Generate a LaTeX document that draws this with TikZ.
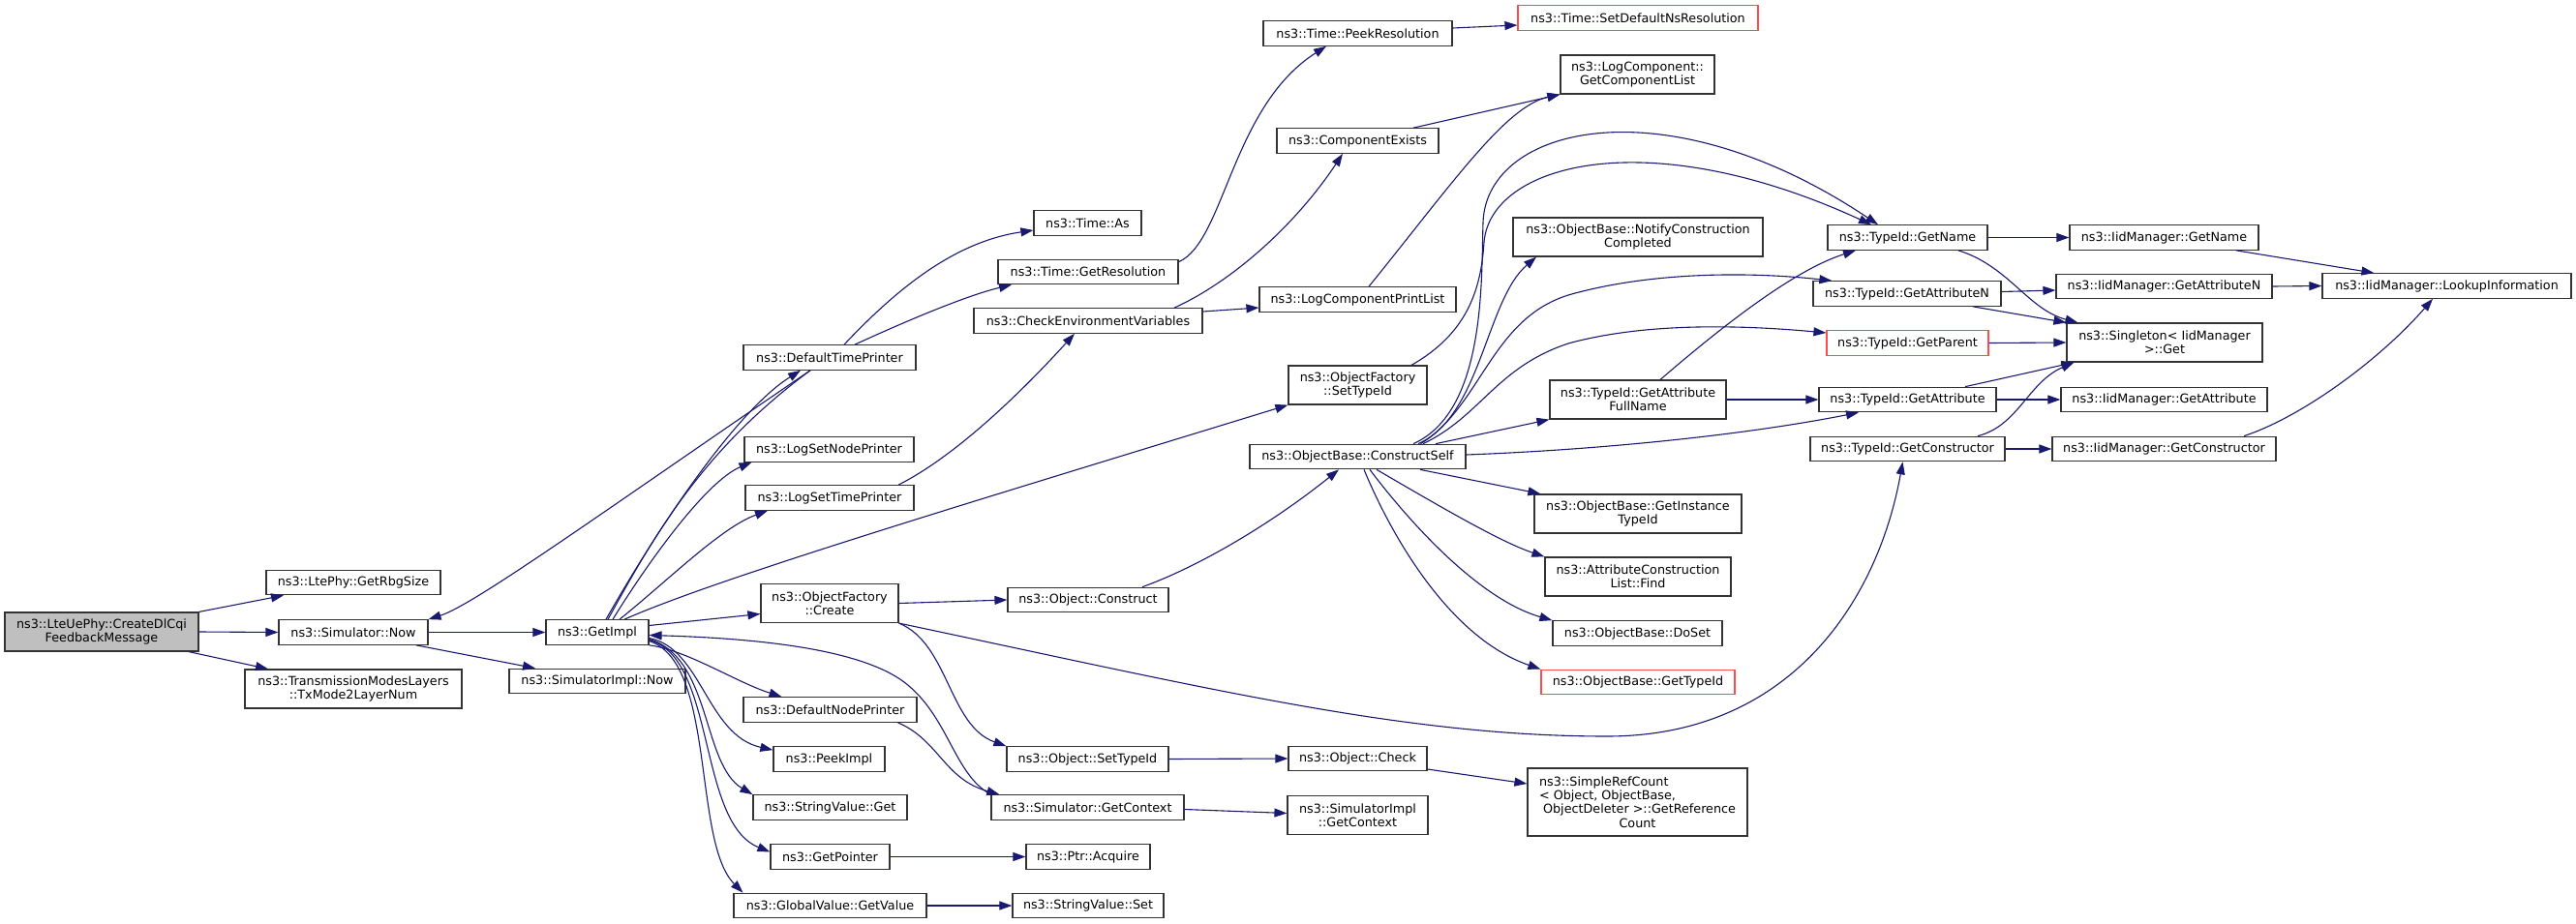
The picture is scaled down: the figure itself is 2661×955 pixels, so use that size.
\documentclass[tikz,border=0pt]{standalone}
\usepackage{fontspec}
\setmainfont{DejaVu Sans}
\usetikzlibrary{arrows.meta}
\definecolor{callblue}{HTML}{191970}
\definecolor{rootgray}{HTML}{BFBFBF}
\begin{document}
\begin{tikzpicture}[x=1pt,y=-1pt,
    fn/.style={draw=black!80,line width=1.2pt,fill=white,align=center,inner sep=1pt,
      minimum height=25.5pt,font=\fontsize{12.75}{14.3}\selectfont},
    fnred/.style={fn,draw=red!70},
    call/.style={draw=callblue,line width=1.1pt,-{Triangle[length=13pt,width=9pt]}}]
        \fill[white] (0,0) rectangle (2661,955);
        \useasboundingbox (0,0) rectangle (2661,955);
        \node[fn,fill=rootgray,minimum width=200pt,minimum height=40pt] (root) at (105,653) {ns3::LteUePhy::CreateDlCqi\\FeedbackMessage};
        \foreach
        \n/\x/\y/\w/\txt in {rbg/365/602/180/ns3::LtePhy::GetRbgSize, now/365/653.5/154/ns3::Simulator::Now,
          impl/617/653.5/106/ns3::GetImpl, simnow/617/704/182/ns3::SimulatorImpl::Now,
          deftime/857/369.5/178/ns3::DefaultTimePrinter, lognode/856.5/464.5/175/ns3::LogSetNodePrinter,
          logtime/857/514.5/174/ns3::LogSetTimePrinter, defnode/857.5/733.5/179/ns3::DefaultNodePrinter,
          peek/856.5/784.5/115/ns3::PeekImpl, strget/857.5/834.5/159/ns3::StringValue::Get,
          getptr/857.5/885.5/123/ns3::GetPointer, getval/857.5/936/199/ns3::GlobalValue::GetValue,
          timeas/1123.5/230.5/111/ns3::Time::As, getres/1124/281/186/ns3::Time::GetResolution,
          checkenv/1124/331.5/236/ns3::CheckEnvironmentVariables, construct/1124/620/166/ns3::Object::Construct,
          objsettid/1123.5/784.5/167/ns3::Object::SetTypeId, getctx/1123.5/834.5/199/ns3::Simulator::GetContext,
          acquire/1124/885.5/128/ns3::Ptr::Acquire, strset/1124/936/156/ns3::StringValue::Set,
          peekres/1402.5/34.5/195/ns3::Time::PeekResolution, compexists/1402.5/145.5/167/ns3::ComponentExists,
          printlist/1402.5/309.5/203/ns3::LogComponentPrintList, cself/1402.5/472/223/ns3::ObjectBase::ConstructSelf,
          check/1402.5/784/143/ns3::Object::Check, doset/1691.5/654.5/175/ns3::ObjectBase::DoSet,
          tgetname/1970.5/245.5/165/ns3::TypeId::GetName, tgetattrn/1970/303.5/194/ns3::TypeId::GetAttributeN,
          tgetattr/1970.5/413/183/ns3::TypeId::GetAttribute, tgetctor/1970.5/464/201/ns3::TypeId::GetConstructor,
          iname/2235.5/245.5/195/ns3::IidManager::GetName, iattrn/2235.5/296/223/ns3::IidManager::GetAttributeN,
          iattr/2235.5/413/213/ns3::IidManager::GetAttribute, ictor/2235.5/464/231/ns3::IidManager::GetConstructor,
          lookup/2527.5/295.5/257/ns3::IidManager::LookupInformation}
          {\node[fn,minimum width=\w*1pt] (\n) at (\x,\y) {\txt};}
        \foreach
        \n/\x/\y/\w/\txt in {txmode/365/712/224/{ns3::TransmissionModesLayers\\::TxMode2LayerNum},
          create/857/623.5/142/{ns3::ObjectFactory\\::Create}, complist/1691.5/77/159/{ns3::LogComponent::\\GetComponentList},
          notify/1692/245/258/{ns3::ObjectBase::NotifyConstruction\\Completed}, facsettid/1402.5/398/143/{ns3::ObjectFactory\\::SetTypeId},
          fullname/1692/413/182/{ns3::TypeId::GetAttribute\\FullName}, insttid/1692/531/214/{ns3::ObjectBase::GetInstance\\TypeId},
          find/1692/596/192/{ns3::AttributeConstruction\\List::Find}, implctx/1402.5/842.5/145/{ns3::SimulatorImpl\\::GetContext},
          single/2236/354/202/{ns3::Singleton< IidManager\\ >::Get}}
          {\node[fn,minimum width=\w*1pt,minimum height=40pt] (\n) at (\x,\y) {\txt};}
        \foreach
        \n/\x/\y/\w/\txt in {setdefns/1692/18.5/248/ns3::Time::SetDefaultNsResolution,
          obtid/1692/705/200/ns3::ObjectBase::GetTypeId, tgetparent/1970.5/354.5/167/ns3::TypeId::GetParent}
          {\node[fnred,minimum width=\w*1pt] (\n) at (\x,\y) {\txt};}
        \node[fn,align=left,minimum width=227pt,minimum height=70pt] (refcount) at (1691.5,829) {ns3::SimpleRefCount\\< Object, ObjectBase,\\\ ObjectDeleter >::GetReference\\\hfill Count\hfill\mbox{}};

        \draw[call] (root.north east) -- ([xshift=-72pt]rbg.south);
        \draw[call] (root.east) -- (now.west);
        \draw[call] ([xshift=90pt]root.south) -- ([xshift=-88pt]txmode.north);
        \draw[call] (now.east) -- (impl.west);
        \draw[call] ([xshift=65pt]now.south) -- ([xshift=-64pt]simnow.north);
        \draw[call] ([xshift=-20pt]deftime.south) .. controls (620,531) and (490,625) .. (now.north east);
        \draw[call] ([xshift=9pt]impl.north) .. controls (680,545) and (760,425) .. ([xshift=-30pt]deftime.south);
        \draw[call,-] ([xshift=11pt]impl.north) .. controls (680,545) and (730,462) .. ([xshift=-20pt]deftime.south);
        \draw[call] ([xshift=16pt]impl.north) .. controls (670,580) and (730,497) .. ([xshift=-80pt]lognode.south);
        \draw[call] ([xshift=23pt]impl.north) .. controls (690,600) and (745,545) .. ([xshift=-64pt]logtime.south);
        \draw[call] ([xshift=28pt]impl.north) .. controls (740,598) and (1000,520) .. (facsettid.south west);
        \draw[call] ([yshift=7pt]impl.east) -- ([yshift=-11pt]create.west);
        \draw[call] (getctx.north west) .. controls (985,800) and (980,740) .. (934,705)
          .. controls (890,672) and (790,660) .. ([yshift=-3pt]impl.east);
        \draw[call] (impl.south east) .. controls (710,672) and (760,705) .. ([xshift=-50pt]defnode.north);
        \draw[call] ([yshift=-6pt]impl.east) .. controls (725,670) and (730,760) .. ([yshift=-4pt]peek.north west);
        \draw[call] ([yshift=-7pt]impl.east) .. controls (735,680) and (725,790) .. (strget.north west);
        \draw[call] ([yshift=-8pt]impl.east) .. controls (740,680) and (720,850) .. ([yshift=5pt]getptr.west);
        \draw[call] ([yshift=-9pt]impl.east) .. controls (740,685) and (715,870) .. ([xshift=-90pt]getval.north);
        \draw[call] ([xshift=70pt]defnode.south) .. controls (970,765) and (975,805) .. ([xshift=9pt]getctx.north west);
        \draw[call] (create.east) -- (construct.west);
        \draw[call] (create.south east) .. controls (980,665) and (980,750) .. (objsettid.north west);
        \draw[call] (create.south east) .. controls (1250,712) and (1450,761) .. (1660,761)
          .. controls (1850,761) and (1940,620) .. ([xshift=-5pt]tgetctor.south);
        \draw[call] (getptr.east) -- (acquire.west);
        \draw[call] (getval.east) -- (strset.west);
        \draw[call] (objsettid.east) -- (check.west);
        \draw[call] ([yshift=-2pt]getctx.east) -- ([yshift=2pt]implctx.west);
        \draw[call] ([yshift=-11pt]check.east) -- ([yshift=19pt]refcount.west);
        \draw[call] ([xshift=56pt]construct.north) .. controls (1240,585) and (1315,540) .. ([xshift=-19.5pt]cself.south);
        \draw[call] ([xshift=15pt]deftime.north) .. controls (925,300) and (985,250) .. ([yshift=-7.5pt]timeas.west);
        \draw[call] ([xshift=26pt]deftime.north) .. controls (940,330) and (1000,305) .. ([xshift=-79pt]getres.south);
        \draw[call] ([yshift=-3pt]getres.north east) .. controls (1265,250) and (1272,110) .. ([xshift=-32.5pt]peekres.south);
        \draw[call] ([yshift=5.5pt]peekres.east) -- ([yshift=-7.5pt]setdefns.west);
        \draw[call] ([xshift=71pt]logtime.north) .. controls (990,470) and (1060,400) .. ([xshift=-14pt]checkenv.south);
        \draw[call] ([xshift=89pt]checkenv.north) .. controls (1275,290) and (1340,230) .. ([xshift=-15.5pt]compexists.south);
        \draw[call] ([yshift=9.5pt]checkenv.east) -- ([yshift=-8.5pt]printlist.west);
        \draw[call] ([xshift=57.5pt]compexists.north) -- (complist.south west);
        \draw[call] ([xshift=11.5pt]printlist.north) .. controls (1500,190) and (1555,110) .. (complist.south west);
        \draw[call] ([xshift=57.5pt]cself.north) .. controls (1535,425) and (1530,290) .. (1532,230)
          .. controls (1535,130) and (1720,85) .. ([xshift=-30.5pt]tgetname.north);
        \draw[call] ([xshift=55.5pt]facsettid.north) .. controls (1515,345) and (1530,300) .. (1533,250)
          .. controls (1540,170) and (1700,125) .. ([xshift=-37.5pt]tgetname.north);
        \draw[call] ([xshift=62.5pt]cself.north) .. controls (1530,430) and (1535,310) .. ([xshift=-105pt]notify.south);
        \draw[call] ([xshift=65pt]cself.north) .. controls (1530,420) and (1540,330) .. (1620,305)
          .. controls (1700,282) and (1800,280) .. ([xshift=20pt]tgetattrn.north west);
        \draw[call] ([xshift=67.5pt]cself.north) .. controls (1530,430) and (1545,380) .. (1620,355)
          .. controls (1700,333) and (1800,336) .. ([yshift=10.5pt]tgetparent.west);
        \draw[call] ([xshift=80.5pt]cself.north) -- (fullname.south west);
        \draw[call] ([yshift=2pt]cself.east) .. controls (1650,465) and (1800,450) .. ([xshift=-50.5pt]tgetattr.south);
        \draw[call] ([xshift=23pt]fullname.north) .. controls (1770,345) and (1850,280) .. ([xshift=-53.5pt]tgetname.south);
        \draw[call] (fullname.east) -- (tgetattr.west);
        \draw[call] ([xshift=64.5pt]cself.south) -- ([xshift=7pt]insttid.north west);
        \draw[call] ([xshift=19.5pt]cself.south) .. controls (1490,525) and (1550,560) .. (find.north west);
        \draw[call] ([xshift=12.5pt]cself.south) .. controls (1460,545) and (1530,620) .. (doset.north west);
        \draw[call] ([xshift=6.5pt]cself.south) .. controls (1440,560) and (1500,660) .. (obtid.north west);
        \draw[call] (tgetname.east) -- (iname.west);
        \draw[call] ([xshift=52.5pt]tgetname.south) .. controls (2075,275) and (2095,320) .. ([xshift=12pt]single.north west);
        \draw[call] ([yshift=2pt]tgetattrn.east) -- ([yshift=-4pt]iattrn.west);
        \draw[call] ([xshift=68pt]tgetattrn.south) -- (single.north west);
        \draw[call] (tgetparent.east) -- (single.west);
        \draw[call] ([xshift=59.5pt]tgetattr.north) -- ([xshift=8pt]single.south west);
        \draw[call] (tgetattr.east) -- (iattr.west);
        \draw[call] ([xshift=72.5pt]tgetctor.north) .. controls (2085,440) and (2095,395) .. ([xshift=8pt]single.south west);
        \draw[call] (tgetctor.east) -- (ictor.west);
        \draw[call] ([xshift=74.5pt]iname.south) -- ([xshift=54pt]lookup.north west);
        \draw[call] (iattrn.east) -- (lookup.west);
        \draw[call] ([xshift=82.5pt]ictor.north) .. controls (2380,430) and (2460,370) .. ([xshift=-14.5pt]lookup.south);
    \end{tikzpicture}
\end{document}
